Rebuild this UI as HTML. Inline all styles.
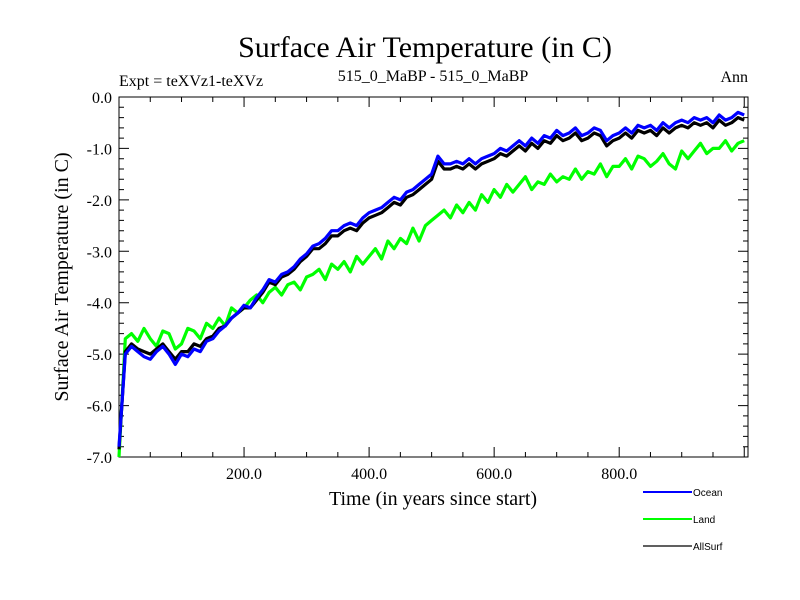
<!DOCTYPE html>
<html><head><meta charset="utf-8"><style>
body{margin:0;background:#fff}
svg{display:block;font-family:"Liberation Serif",serif}
</style></head><body>
<svg id="chart" width="800" height="600">
<text x="425" y="57" font-size="30" text-anchor="middle">Surface Air Temperature (in C)</text>
<text x="119" y="86" font-size="16">Expt = teXVz1-teXVz</text>
<text x="433" y="81" font-size="16" text-anchor="middle">515_0_MaBP - 515_0_MaBP</text>
<text x="748" y="82" font-size="16" text-anchor="end">Ann</text>
<text x="433" y="505" font-size="20" text-anchor="middle">Time (in years since start)</text>
<text transform="translate(68,277) rotate(-90)" font-size="20" text-anchor="middle">Surface Air Temperature (in C)</text>
<g id="axes"></g>
<g id="series"></g>
<g id="legend" font-family="Liberation Sans, sans-serif" font-size="10">
<line x1="643" y1="492" x2="692" y2="492" stroke="#0000ff" stroke-width="2"/>
<text x="693" y="496">Ocean</text>
<line x1="643" y1="519" x2="692" y2="519" stroke="#00ff00" stroke-width="2"/>
<text x="693" y="523">Land</text>
<line x1="643" y1="546" x2="692" y2="546" stroke="#000" stroke-width="1.2"/>
<text x="693" y="550">AllSurf</text>
</g>
</svg>
<script>
const years=[];for(let i=0;i<=100;i++)years.push(i*10);
const ocean=[-6.8,-5.0,-4.85,-4.95,-5.05,-5.1,-4.95,-4.85,-5.0,-5.2,-5.0,-5.05,-4.9,-4.95,-4.75,-4.7,-4.55,-4.45,-4.3,-4.2,-4.05,-4.1,-3.9,-3.75,-3.55,-3.6,-3.45,-3.4,-3.3,-3.15,-3.05,-2.9,-2.85,-2.75,-2.6,-2.6,-2.5,-2.45,-2.5,-2.35,-2.25,-2.2,-2.15,-2.05,-1.95,-2.0,-1.85,-1.8,-1.7,-1.6,-1.5,-1.15,-1.3,-1.3,-1.25,-1.3,-1.2,-1.3,-1.2,-1.15,-1.1,-1.0,-1.05,-0.95,-0.85,-0.95,-0.8,-0.9,-0.75,-0.8,-0.65,-0.75,-0.7,-0.6,-0.75,-0.7,-0.6,-0.65,-0.85,-0.75,-0.7,-0.6,-0.7,-0.55,-0.6,-0.55,-0.65,-0.5,-0.6,-0.5,-0.45,-0.5,-0.4,-0.45,-0.4,-0.5,-0.35,-0.45,-0.4,-0.3,-0.35];
const land=[-7.0,-4.7,-4.6,-4.75,-4.5,-4.7,-4.85,-4.55,-4.6,-4.9,-4.8,-4.5,-4.55,-4.7,-4.4,-4.5,-4.3,-4.45,-4.1,-4.2,-4.1,-3.95,-3.85,-4.0,-3.8,-3.7,-3.85,-3.65,-3.6,-3.75,-3.5,-3.45,-3.35,-3.55,-3.25,-3.35,-3.2,-3.4,-3.1,-3.25,-3.1,-2.95,-3.15,-2.8,-2.95,-2.75,-2.85,-2.55,-2.8,-2.5,-2.4,-2.3,-2.2,-2.35,-2.1,-2.25,-2.05,-2.2,-1.9,-2.05,-1.8,-1.95,-1.7,-1.85,-1.7,-1.55,-1.8,-1.65,-1.7,-1.5,-1.65,-1.55,-1.6,-1.4,-1.6,-1.45,-1.5,-1.3,-1.55,-1.35,-1.35,-1.2,-1.4,-1.15,-1.2,-1.35,-1.25,-1.1,-1.3,-1.4,-1.05,-1.2,-1.05,-0.9,-1.1,-1.0,-1.0,-0.85,-1.05,-0.9,-0.85];
const allsurf=[-6.85,-4.95,-4.8,-4.9,-4.95,-5.0,-4.9,-4.8,-4.95,-5.1,-4.95,-4.95,-4.8,-4.85,-4.7,-4.65,-4.5,-4.45,-4.3,-4.2,-4.1,-4.1,-3.95,-3.8,-3.6,-3.65,-3.5,-3.45,-3.35,-3.2,-3.1,-2.95,-2.95,-2.85,-2.7,-2.7,-2.6,-2.55,-2.6,-2.45,-2.35,-2.3,-2.25,-2.15,-2.05,-2.1,-1.95,-1.9,-1.8,-1.7,-1.6,-1.25,-1.4,-1.4,-1.35,-1.4,-1.3,-1.4,-1.3,-1.25,-1.2,-1.1,-1.15,-1.05,-0.95,-1.05,-0.9,-1.0,-0.85,-0.9,-0.75,-0.85,-0.8,-0.7,-0.85,-0.8,-0.7,-0.75,-0.95,-0.85,-0.8,-0.7,-0.8,-0.65,-0.7,-0.65,-0.75,-0.6,-0.7,-0.6,-0.55,-0.6,-0.5,-0.55,-0.5,-0.6,-0.45,-0.55,-0.5,-0.4,-0.45];
const xTickVals=[200,400,600,800];
const xTickLabels=["200.0","400.0","600.0","800.0"];
const yTickVals=[0,-1,-2,-3,-4,-5,-6,-7];
const yTickLabels=["0.0","-1.0","-2.0","-3.0","-4.0","-5.0","-6.0","-7.0"];
const L=119,R=748,T=97,B=457,XMAX=1006,YMIN=-7,YMAX=0;
const xs=v=>L+(v/XMAX)*(R-L);
const ys=v=>T+(YMAX-v)/(YMAX-YMIN)*(B-T);
const NS="http://www.w3.org/2000/svg";
const axes=document.getElementById('axes');
function mk(tag,attrs,parent){const e=document.createElementNS(NS,tag);for(const k in attrs)e.setAttribute(k,attrs[k]);parent.appendChild(e);return e;}
const frame=mk('rect',{x:L,y:T,width:R-L,height:B-T,fill:'none',stroke:'#000','stroke-width':1},axes);


let tp="";
for(let v=50;v<XMAX;v+=50){const x=xs(v);const len=(v%200===0)?10:5;tp+=`M${x},${B}v${-len}M${x},${T}v${len}`;}
for(let v=0;v>=-7.001;v-=0.2){const y=ys(v);const major=Math.abs(v-Math.round(v))<0.01;const len=major?10:5;tp+=`M${L},${y}h${len}M${R},${y}h${-len}`;}
const ticks=mk('path',{d:tp,stroke:'#000','stroke-width':1,fill:'none'},axes);


xTickVals.forEach((v,i)=>{const t=mk('text',{x:xs(v),y:B+22,'font-size':16,'text-anchor':'middle'},axes);t.textContent=xTickLabels[i];

});
yTickVals.forEach((v,i)=>{const t=mk('text',{x:L-7,y:ys(v)+6,'font-size':16,'text-anchor':'end'},axes);t.textContent=yTickLabels[i];

});
const sg=document.getElementById('series');
function line(arr,color,w,name){const d=arr.map((v,i)=>(i?'L':'M')+xs(years[i]).toFixed(1)+','+ys(v).toFixed(1)).join('');
const p=mk('path',{d:d,stroke:color,'stroke-width':w,fill:'none','stroke-linejoin':'round'},sg);

}
line(land,'#00ff00',3.2,'land-line');
line(allsurf,'#000000',3.2,'allsurf-line');
line(ocean,'#0000ff',3.2,'ocean-line');
</script>
</body></html>
